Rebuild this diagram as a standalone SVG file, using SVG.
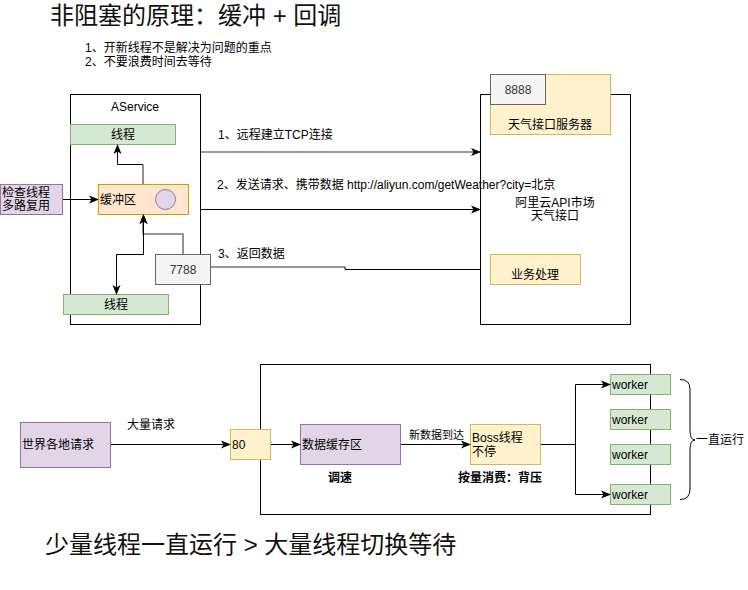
<svg xmlns="http://www.w3.org/2000/svg" width="748" height="590" viewBox="0 0 748 590">
<defs>
<marker id="arr" markerUnits="userSpaceOnUse" markerWidth="10" markerHeight="10" viewBox="0 0 10 10" refX="9" refY="5" orient="auto-start-reverse">
<path d="M0,1 L10,5 L0,9 L2.5,5 z" fill="#000"/>
</marker>
</defs>
<style>
text{font-family:"Liberation Sans","Noto Sans CJK SC",sans-serif;font-size:12px;fill:#000}
.c{text-anchor:middle;dominant-baseline:central}
.l{dominant-baseline:central}
.b{font-weight:bold}
.big{font-size:24px;fill:#111}
.box{fill:#fff;stroke:#000;stroke-width:1}
.green{fill:#d5e8d4;stroke:#82b366}
.orange{fill:#ffe6cc;stroke:#d79b00}
.purple{fill:#e1d5e7;stroke:#9673a6}
.yellow{fill:#fff2cc;stroke:#d6b656}
.gray{fill:#f5f5f5;stroke:#666666}
.gt{fill:#333}
.e{fill:none;stroke:#000;stroke-width:1}
.g{fill:none;stroke:#777;stroke-width:1.6}
</style>

<g id="title">
<text x="50" y="24" class="big">非阻塞的原理：缓冲 + 回调</text>
<text x="85" y="52">1、开新线程不是解决为问题的重点</text>
<text x="85" y="66">2、不要浪费时间去等待</text>
</g>

<g id="aservice">
<rect x="70.5" y="94.5" width="130" height="230" class="box"/>
<text x="135" y="107" class="c">AService</text>
</g>
<g id="thread-top">
<rect x="70.5" y="124.5" width="105" height="20" class="green"/>
<text x="123" y="134.5" class="c">线程</text>
</g>
<g id="buffer">
<rect x="98.5" y="184.5" width="90" height="30" class="orange"/>
<text x="100" y="199.5" class="l">缓冲区</text>
<circle cx="165.5" cy="199.5" r="10" class="purple"/>
</g>
<g id="checker">
<rect x="0.5" y="184.5" width="62" height="30" class="purple"/>
<text x="2" y="193" class="l">检查线程</text>
<text x="2" y="206" class="l">多路复用</text>
</g>
<g id="thread-bottom">
<rect x="63.5" y="294.5" width="105" height="20" class="green"/>
<text x="116" y="304.5" class="c">线程</text>
</g>
<g id="port7788">
<rect x="155.5" y="254.5" width="55" height="30" class="gray"/>
<text x="183" y="269.5" class="c gt">7788</text>
</g>

<g id="server">
<rect x="480.5" y="94.5" width="150" height="230" class="box"/>
<text x="555" y="203" class="c">阿里云API市场</text>
<text x="555" y="216" class="c">天气接口</text>
</g>
<g id="weather-server">
<rect x="490.5" y="74.5" width="120" height="60" class="yellow"/>
<text x="550" y="124.5" class="c">天气接口服务器</text>
</g>
<g id="port8888">
<rect x="490.5" y="74.5" width="55" height="30" class="gray"/>
<text x="518" y="89.5" class="c gt">8888</text>
</g>
<g id="business">
<rect x="490.5" y="254.5" width="90" height="30" class="yellow"/>
<text x="535" y="274.5" class="c">业务处理</text>
</g>

<g id="frame2">
<rect x="260.5" y="364.5" width="390" height="150" class="box"/>
<text x="340" y="478" class="c b">调速</text>
<text x="500" y="478" class="c b">按量消费：背压</text>
</g>
<g id="world">
<rect x="20.5" y="422.5" width="90" height="45" class="purple"/>
<text x="22" y="445" class="l">世界各地请求</text>
</g>
<g id="port80">
<rect x="230.5" y="429.5" width="40" height="30" class="yellow"/>
<text x="232" y="444.5" class="l">80</text>
</g>
<g id="cache">
<rect x="300.5" y="424.5" width="100" height="40" class="purple"/>
<text x="302" y="444.5" class="l">数据缓存区</text>
</g>
<g id="boss">
<rect x="470.5" y="424.5" width="70" height="40" class="yellow"/>
<text x="472" y="437.5" class="l">Boss线程</text>
<text x="472" y="451.5" class="l">不停</text>
</g>
<g id="worker1"><rect x="610.5" y="374.5" width="60" height="20" class="green"/><text x="612" y="384.5" class="l">worker</text></g>
<g id="worker2"><rect x="610.5" y="409.5" width="60" height="20" class="green"/><text x="612" y="419.5" class="l">worker</text></g>
<g id="worker3"><rect x="610.5" y="444.5" width="60" height="20" class="green"/><text x="612" y="454.5" class="l">worker</text></g>
<g id="worker4"><rect x="610.5" y="484.5" width="60" height="20" class="green"/><text x="612" y="494.5" class="l">worker</text></g>
<g id="brace">
<path d="M680,379.5 Q690,379.5 690,389 L690,430 Q690,440 695,440 Q690,440 690,450 L690,489 Q690,499.5 680,499.5" class="e"/>
<text x="696" y="440" class="l">一直运行</text>
</g>

<g id="footer">
<text x="45" y="553" class="big">少量线程一直运行 &gt; 大量线程切换等待</text>
</g>

<g id="connectors">
<path d="M143,184 L143,164.5" class="g"/>
<path d="M143,164.5 L117.5,164.5 L117.5,145" class="e" marker-end="url(#arr)"/>
<path d="M63,199.5 L98,199.5" class="e" marker-end="url(#arr)"/>
<path d="M183,254 L183,234 L143,234 L143,222" class="g"/>
<path d="M143.5,225 L143.5,215" class="e" marker-end="url(#arr)"/>
<path d="M143.5,215 L143.5,254.5 L116.5,254.5 L116.5,294" class="e" marker-start="url(#arr)" marker-end="url(#arr)"/>
<path d="M201,152 L480,152" class="g" marker-end="url(#arr)"/>
<path d="M201,209.5 L480,209.5" class="e" marker-end="url(#arr)"/>
<path d="M211,267 L345,267" class="g"/>
<path d="M345,267 L345,269.5 L480,269.5" class="e"/>
<text x="218" y="135" class="l">1、远程建立TCP连接</text>
<text x="217" y="185" class="l">2、发送请求、携带数据 http://aliyun.com/getWeather?city=北京</text>
<text x="218" y="254" class="l">3、返回数据</text>
<path d="M111,444.5 L230,444.5" class="e" marker-end="url(#arr)"/>
<text x="127" y="425" class="l">大量请求</text>
<path d="M271,444.5 L300,444.5" class="e" marker-end="url(#arr)"/>
<path d="M401,444.5 L470,444.5" class="e" marker-end="url(#arr)"/>
<text x="409" y="435" class="l" style="font-size:11px">新数据到达</text>
<path d="M541,444.5 L575.5,444.5 L575.5,384.5 L610,384.5" class="e" marker-end="url(#arr)"/>
<path d="M575.5,444.5 L575.5,494.5 L610,494.5" class="e" marker-end="url(#arr)"/>
</g>
</svg>
